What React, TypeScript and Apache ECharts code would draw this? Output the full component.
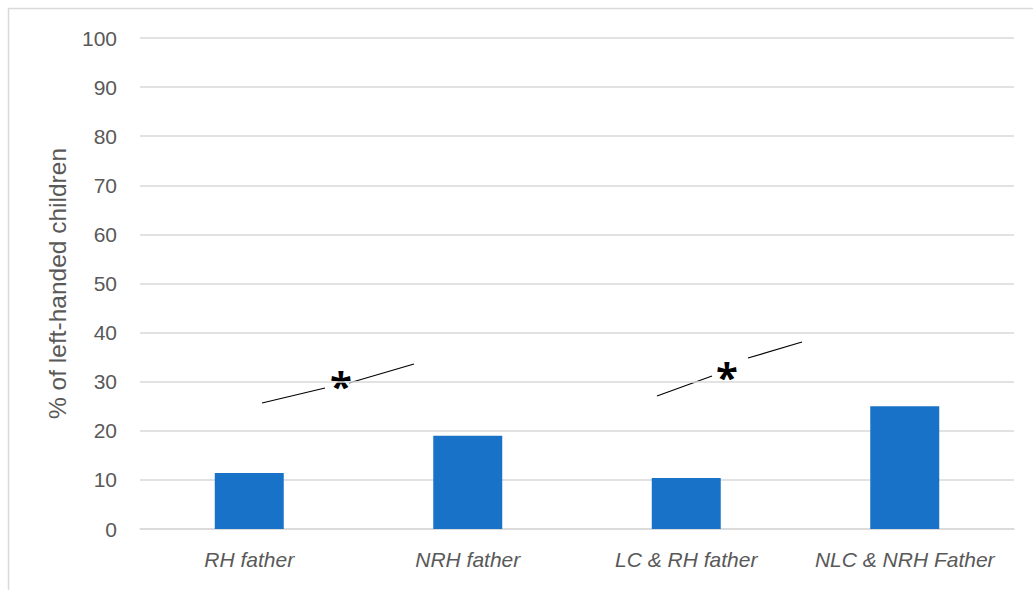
import React, { useEffect, useRef } from "react";
import * as echarts from "echarts";

const categories = ["RH father", "NRH father", "LC & RH father", "NLC & NRH Father"];
const values = [11.4, 19.0, 10.4, 25.0];
const yTicks = { min: 0, max: 100, interval: 10 };
const yAxisTitle = "% of left-handed children";
const significanceMark = "*";

export default function App() {
  const ref = useRef<HTMLDivElement>(null);
  useEffect(() => {
    if (!ref.current) return;
    const chart = echarts.init(ref.current, null, { renderer: "svg" });
    const font = "'Liberation Sans', Arial, sans-serif";
    const lineStyle = { stroke: "#000", lineWidth: 1.2 };
    const star = (x: number, y: number) => ({
      type: "text",
      x,
      y,
      style: {
        text: significanceMark,
        fontSize: 40,
        fontWeight: "bold",
        fontFamily: "'Open Sans', sans-serif",
        fill: "#000",
        align: "center",
        verticalAlign: "middle",
      },
    });
    chart.setOption({
      animation: false,
      backgroundColor: "#fff",
      grid: { left: 140, right: 19, top: 38, bottom: 61 },
      xAxis: {
        type: "category",
        data: categories,
        axisLine: { lineStyle: { color: "#d9d9d9", width: 1.5 } },
        axisTick: { show: false },
        axisLabel: {
          color: "#595959",
          fontSize: 21,
          fontStyle: "italic",
          fontFamily: font,
          margin: 20,
          interval: 0,
        },
      },
      yAxis: {
        type: "value",
        min: yTicks.min,
        max: yTicks.max,
        interval: yTicks.interval,
        name: yAxisTitle,
        nameLocation: "middle",
        nameGap: 70,
        nameTextStyle: { color: "#595959", fontSize: 24.5, fontFamily: font },
        axisLine: { show: false },
        axisTick: { show: false },
        splitLine: { lineStyle: { color: "#d9d9d9", width: 1.5 } },
        axisLabel: { color: "#595959", fontSize: 21, fontFamily: font, margin: 23 },
      },
      series: [
        {
          type: "bar",
          data: values,
          barWidth: 69,
          itemStyle: { color: "#1873c8" },
        },
      ],
      graphic: [
        {
          type: "rect",
          silent: true,
          shape: { x: 8.5, y: 8.5, width: 1040, height: 600 },
          style: { fill: "none", stroke: "#d9d9d9", lineWidth: 1.5 },
        },
        { type: "line", shape: { x1: 262, y1: 403, x2: 325, y2: 388 }, style: lineStyle },
        { type: "line", shape: { x1: 349, y1: 383, x2: 414, y2: 364 }, style: lineStyle },
        star(341, 385),
        { type: "line", shape: { x1: 657, y1: 396, x2: 712, y2: 376 }, style: lineStyle },
        { type: "line", shape: { x1: 748, y1: 358, x2: 802, y2: 342 }, style: lineStyle },
        star(727, 376),
      ],
    });
    return () => chart.dispose();
  }, []);
  return (
    <div
      ref={ref}
      style={{ position: "absolute", left: 0, top: 0, width: 1033, height: 590 }}
    />
  );
}
